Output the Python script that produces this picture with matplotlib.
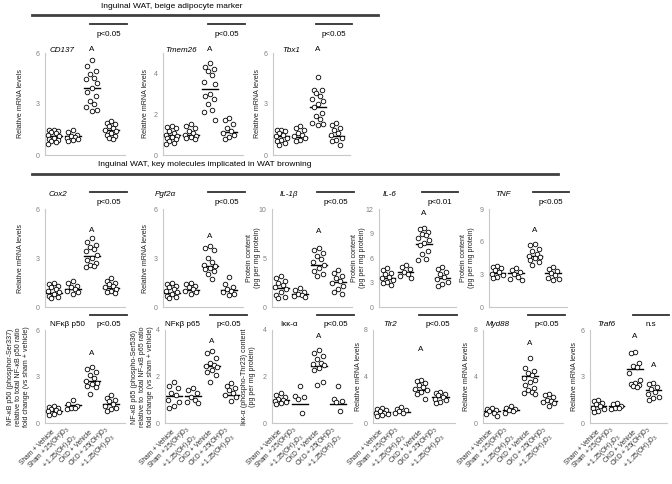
import matplotlib
matplotlib.use("Agg")
import matplotlib.pyplot as plt
import matplotlib.transforms as mtransforms
import numpy as np

plt.rcParams['font.family'] = ['Liberation Sans', 'DejaVu Sans']
plt.rcParams['mathtext.fontset'] = 'custom'
plt.rcParams['mathtext.rm'] = 'Liberation Sans'

groups = ['Sham + Vehicle', 'Sham + 25(OH)D$_3$\n+ 1,25(OH)$_2$D$_3$',
          'CKD + Vehicle', 'CKD + 25(OH)D$_3$\n+ 1,25(OH)$_2$D$_3$']

# ---- values (one list per group) ----
cd137 = [[1.5, 1.45, 1.4, 1.35, 1.3, 1.2, 1.1, 1.0, 0.95, 0.9, 0.8, 0.75, 0.65],
         [1.5, 1.35, 1.2, 1.1, 1.05, 1.0, 0.95, 0.9, 0.85],
         [5.6, 5.25, 4.95, 4.75, 4.55, 4.45, 4.25, 3.95, 3.7, 3.45, 3.2, 3.0, 2.8, 2.65, 2.6],
         [2.0, 1.9, 1.8, 1.7, 1.6, 1.5, 1.4, 1.3, 1.2, 1.1, 1.0, 0.95]]
cd137_mean = [1.09, 1.1, 3.96, 1.49]

tmem26 = [[1.4, 1.35, 1.3, 1.2, 1.1, 1.0, 0.95, 0.9, 0.85, 0.8, 0.7, 0.6, 0.55],
          [1.5, 1.4, 1.3, 1.2, 1.1, 1.0, 0.95, 0.9, 0.85, 0.8],
          [4.5, 4.3, 4.2, 4.1, 3.9, 3.6, 3.5, 3.0, 2.9, 2.75, 2.5, 2.2, 2.1, 1.7],
          [1.8, 1.7, 1.5, 1.3, 1.2, 1.1, 1.0, 0.9, 0.8]]
tmem26_mean = [0.96, 0.96, 3.22, 1.12]

tbx1 = [[1.5, 1.45, 1.4, 1.3, 1.2, 1.1, 1.0, 0.9, 0.8, 0.7, 0.6],
        [1.7, 1.6, 1.5, 1.3, 1.2, 1.1, 1.0, 0.9, 0.8],
        [4.6, 3.85, 3.8, 3.65, 3.5, 3.3, 3.15, 3.0, 2.8, 2.5, 2.3, 2.1, 1.9, 1.8, 1.75],
        [1.9, 1.75, 1.6, 1.5, 1.3, 1.2, 1.0, 0.9, 0.8, 0.6]]
tbx1_mean = [1.14, 1.08, 2.85, 1.14]

cox2 = [[1.45, 1.4, 1.3, 1.2, 1.1, 1.0, 0.9, 0.8, 0.7, 0.6, 0.55],
        [1.6, 1.45, 1.3, 1.2, 1.1, 1.0, 0.9, 0.8],
        [4.25, 4.0, 3.8, 3.7, 3.55, 3.4, 3.2, 3.0, 2.85, 2.7, 2.6, 2.5, 2.45],
        [1.75, 1.6, 1.5, 1.4, 1.3, 1.2, 1.1, 1.0, 0.9, 0.85]]
cox2_mean = [0.84, 1.09, 3.14, 1.19]

pgf2a = [[1.5, 1.4, 1.3, 1.2, 1.1, 1.0, 0.9, 0.8, 0.7, 0.6, 0.55],
         [1.5, 1.4, 1.3, 1.2, 1.1, 1.0, 0.9, 0.8],
         [3.75, 3.6, 3.5, 3.0, 2.75, 2.6, 2.5, 2.4, 2.3, 2.2, 2.0, 1.7],
         [1.85, 1.4, 1.2, 1.1, 1.0, 0.9, 0.8, 0.75]]
pgf2a_mean = [0.88, 1.07, 2.53, 1.07]

il1b = [[3.2, 3.0, 2.7, 2.5, 2.2, 2.0, 1.8, 1.5, 1.2, 1.0, 0.9],
        [1.9, 1.7, 1.5, 1.3, 1.2, 1.1, 1.0],
        [6.0, 5.8, 5.5, 5.2, 4.9, 4.6, 4.3, 4.0, 3.7, 3.4, 3.2],
        [3.8, 3.5, 3.2, 3.0, 2.7, 2.4, 2.1, 1.8, 1.5, 1.3]]
il1b_mean = [1.95, 1.37, 4.28, 2.55]

il6 = [[4.8, 4.5, 4.2, 4.0, 3.7, 3.5, 3.3, 3.1, 2.9, 2.7],
       [5.2, 4.9, 4.6, 4.3, 4.0, 3.8, 3.6],
       [9.7, 9.5, 9.2, 9.0, 8.8, 8.5, 8.2, 7.8, 7.6, 6.8, 6.5, 5.9, 5.7],
       [4.9, 4.6, 4.3, 4.0, 3.7, 3.4, 3.1, 2.8, 2.6]]
il6_mean = [3.58, 4.24, 7.74, 3.58]

tnf = [[3.8, 3.7, 3.6, 3.4, 3.2, 3.0, 2.9, 2.8, 2.7],
       [3.6, 3.4, 3.2, 3.0, 2.8, 2.6, 2.5],
       [5.8, 5.7, 5.3, 5.1, 4.9, 4.7, 4.6, 4.5, 4.3, 4.1, 3.9],
       [3.7, 3.5, 3.3, 3.1, 2.9, 2.7, 2.6, 2.5]]
tnf_mean = [3.15, 3.15, 4.7, 3.15]

p50 = [[1.1, 1.05, 1.0, 0.9, 0.85, 0.8, 0.7, 0.6, 0.5],
       [1.5, 1.2, 1.1, 1.0, 0.95, 0.9],
       [3.6, 3.5, 3.3, 3.1, 2.9, 2.7, 2.6, 2.5, 2.4, 2.3, 1.85],
       [1.8, 1.6, 1.5, 1.4, 1.2, 1.1, 1.0, 0.9, 0.8]]
p50_mean = [0.8, 1.14, 2.74, 1.23]

p65 = [[1.75, 1.6, 1.5, 1.3, 1.2, 1.0, 0.9, 0.75, 0.65],
       [1.5, 1.4, 1.3, 1.1, 1.0, 0.9, 0.85],
       [3.1, 3.0, 2.8, 2.6, 2.5, 2.45, 2.4, 2.3, 2.2, 2.05, 1.75],
       [1.7, 1.6, 1.5, 1.4, 1.3, 1.2, 1.1, 0.95]]
p65_mean = [1.18, 1.14, 2.45, 1.22]

ikka = [[1.3, 1.2, 1.1, 1.05, 1.0, 0.95, 0.9, 0.85, 0.8],
        [1.6, 1.15, 1.1, 1.05, 0.45],
        [3.15, 3.0, 2.9, 2.75, 2.6, 2.55, 2.5, 2.35, 2.3, 1.75, 1.65],
        [1.6, 1.05, 0.95, 0.9, 0.5]]
ikka_mean = [0.98, 0.8, 2.45, 0.8]

tlr2 = [[1.3, 1.2, 1.1, 1.0, 0.9, 0.85, 0.8, 0.7, 0.6],
        [1.4, 1.2, 1.1, 1.0, 0.9, 0.85],
        [3.7, 3.6, 3.4, 3.3, 3.1, 2.9, 2.8, 2.7, 2.5, 2.1],
        [2.7, 2.6, 2.5, 2.4, 2.2, 2.1, 2.0, 1.8, 1.7]]
tlr2_mean = [0.95, 0.95, 2.85, 2.22]

myd88 = [[1.3, 1.2, 1.1, 1.0, 0.9, 0.8, 0.6],
         [1.5, 1.3, 1.2, 1.1, 1.0, 0.9],
         [5.6, 4.7, 4.5, 4.3, 4.1, 3.9, 3.7, 3.5, 3.3, 3.0, 2.8, 2.7, 2.6, 2.5],
         [2.5, 2.4, 2.2, 2.0, 1.9, 1.8, 1.7, 1.5]]
myd88_mean = [1.0, 1.14, 4.01, 1.9]

traf6 = [[1.5, 1.4, 1.3, 1.2, 1.1, 1.0, 0.9, 0.8, 0.7],
         [1.3, 1.2, 1.1, 1.0, 0.95, 0.9],
         [4.6, 4.5, 3.9, 3.7, 3.6, 3.2, 2.8, 2.6, 2.5, 2.45, 2.4, 2.35],
         [2.6, 2.5, 2.3, 2.2, 2.0, 1.9, 1.7, 1.6, 1.5]]
traf6_mean = [1.08, 1.08, 3.47, 2.14]

mrna = 'Relative mRNA levels'
prot = 'Protein content\n(pg per mg protein)'

# name, values, means, ymax, ticks, ylabel, stats text, "A" marks (group, y), italic
row1 = [('CD137', cd137, cd137_mean, 6, [0, 3, 6], mrna, 'p<0.05', [(2, 6.2)], True),
        ('Tmem26', tmem26, tmem26_mean, 5, [0, 2, 4], mrna, 'p<0.05', [(2, 5.15)], True),
        ('Tbx1', tbx1, tbx1_mean, 6, [0, 3, 6], mrna, 'p<0.05', [(2, 6.2)], True)]
row2 = [('Cox2', cox2, cox2_mean, 6, [0, 3, 6], mrna, 'p<0.05', [(2, 4.7)], True),
        ('Pgf2α', pgf2a, pgf2a_mean, 6, [0, 3, 6], mrna, 'p<0.05', [(2, 4.3)], True),
        ('IL-1β', il1b, il1b_mean, 10, [0, 5, 10], prot, 'p<0.05', [(2, 7.7)], True),
        ('IL-6', il6, il6_mean, 12, [0, 3, 6, 9, 12], prot, 'p<0.01', [(2, 11.4)], True),
        ('TNF', tnf, tnf_mean, 9, [0, 3, 6, 9], prot, 'p<0.05', [(2, 7.0)], True)]
row3 = [('NFκβ p50', p50, p50_mean, 6, [0, 3, 6],
         'NF-κB p50 (phosphor-Ser337)\nrelative to total NF-κB p50 ratio\nfold change (vs sham + vehicle)',
         'p<0.05', [(2, 4.5)], False),
        ('NFκβ p65', p65, p65_mean, 4, [0, 2, 4],
         'NF-κB p65 (phospho-Ser536)\nrelative to  total NF-κB p65 ratio\nfold change (vs sham + vehicle)',
         'p<0.05', [(2, 3.5)], False),
        ('Iκκ-α', ikka, ikka_mean, 4, [0, 2, 4],
         'Iκκ-α (phospho-Thr23) content\n(pg per mg protein)', 'p<0.05', [(2, 3.7)], False),
        ('Tlr2', tlr2, tlr2_mean, 8, [0, 4, 8], mrna, 'p<0.05', [(2, 6.3)], True),
        ('Myd88', myd88, myd88_mean, 8, [0, 4, 8], mrna, 'p<0.05', [(2, 6.8)], True),
        ('Traf6', traf6, traf6_mean, 6, [0, 3, 6], mrna, 'n.s', [(2, 5.6), (3, 3.7)], True)]

W, H = 672, 484
fig = plt.figure(figsize=(W / 100, H / 100), dpi=100)


def fy(py):
    return 1 - py / H


def fx(px):
    return px / W


offsets = [0.0, -0.22, 0.22, -0.11, 0.11, -0.3, 0.3]


def draw_panel(left, top, width, bottom, spec, name_x, name_y, brk_y, txt_y, lab_x, xlabels):
    name, vals, means, ymax, ticks, ylabel, stat, amarks, ital = spec
    ax = fig.add_axes([fx(left), fy(bottom), fx(width), (bottom - top) / H])
    for i, (v, m) in enumerate(zip(vals, means)):
        v = np.sort(v)[::-1]
        xs = [i + offsets[k % len(offsets)] for k in range(len(v))]
        ax.scatter(xs, v, s=11, facecolors='white', edgecolors='black',
                   linewidths=0.6, zorder=3, clip_on=False)
        ax.plot([i - 0.42, i + 0.42], [m, m], color='black', lw=1.0, zorder=2)
    ax.set_xlim(-0.45, 3.75)
    ax.set_ylim(0, ymax)
    ax.set_yticks(ticks)
    ax.tick_params(axis='y', length=0, pad=4, labelsize=5, labelcolor='#808080')
    for s in ['top', 'right']:
        ax.spines[s].set_visible(False)
    for s in ['left', 'bottom']:
        ax.spines[s].set_color('#c8c8c8')
        ax.spines[s].set_linewidth(0.8)
    if xlabels:
        ax.set_xticks(range(4))
        ax.set_xticklabels(groups, rotation=45, ha='right', va='center',
                           rotation_mode='anchor', fontsize=4.8, color='#303030',
                           multialignment='right', linespacing=0.95)
        ax.tick_params(axis='x', length=0, pad=6)
    else:
        ax.set_xticks([])
    ax.set_ylabel(ylabel, fontsize=5.1, color='#202020', linespacing=1.2)
    # label coords give the right-hand edge of the (rotated) label block
    ax.yaxis.set_label_coords(lab_x, 0.5)
    trans = mtransforms.blended_transform_factory(ax.transData, fig.transFigure)
    ax.plot([1.92, 3.85], [fy(brk_y), fy(brk_y)], color='#303030', lw=1.3,
            transform=trans, clip_on=False)
    ax.text(2.88, fy(txt_y), stat, fontsize=5.8, ha='center', va='center',
            transform=trans)
    ntrans = mtransforms.blended_transform_factory(ax.transAxes, fig.transFigure)
    ax.text(name_x, fy(name_y), name, fontsize=5.8, ha='left', va='center',
            style='italic' if ital else 'normal', transform=ntrans)
    for g, ya in amarks:
        ax.text(g, ya, 'A', fontsize=5.8, ha='center', va='center')
    return ax


# row 1
r1_left = [45, 163, 273]
r1_width = [80, 80, 77]
r1_namex = [0.06, 0.03, 0.12]
r1_labx = [-0.26, -0.175, -0.16]
for i, spec in enumerate(row1):
    draw_panel(r1_left[i], 53, r1_width[i], 155, spec, r1_namex[i], 50, 24, 34, r1_labx[i], False)

# row 2
r2_left = [45, 163, 272, 379, 489]
r2_width = [80, 80, 80, 77, 78]
r2_namex = [0.04, -0.1, 0.1, 0.05, 0.08]
r2_labx = [-0.26, -0.175, -0.14, -0.17, -0.18]
for i, spec in enumerate(row2):
    draw_panel(r2_left[i], 209, r2_width[i], 307, spec, r2_namex[i], 195, 192, 203, r2_labx[i], False)

# row 3
r3_left = [45, 165, 272, 373, 483, 590]
r3_width = [80, 80, 80, 82, 80, 77]
r3_namex = [0.06, 0.0, 0.1, 0.12, 0.03, 0.09]
r3_labx = [-0.19, -0.14, -0.2, -0.14, -0.16, -0.15]
for i, spec in enumerate(row3):
    draw_panel(r3_left[i], 330, r3_width[i], 423, spec, r3_namex[i], 325, 315, 325, r3_labx[i], True)

# section headers
fig.text(fx(172), fy(6), 'Inguinal WAT, beige adipocyte marker', fontsize=6, ha='center', va='center')
fig.add_artist(plt.Line2D([fx(32), fx(378)], [fy(15), fy(15)], color='#404040', lw=2))
fig.text(fx(205), fy(164), 'Inguinal WAT, key molecules implicated in WAT browning',
         fontsize=6, ha='center', va='center')
fig.add_artist(plt.Line2D([fx(32), fx(558)], [fy(174), fy(174)], color='#404040', lw=2))

fig.savefig('out.png', dpi=100)
